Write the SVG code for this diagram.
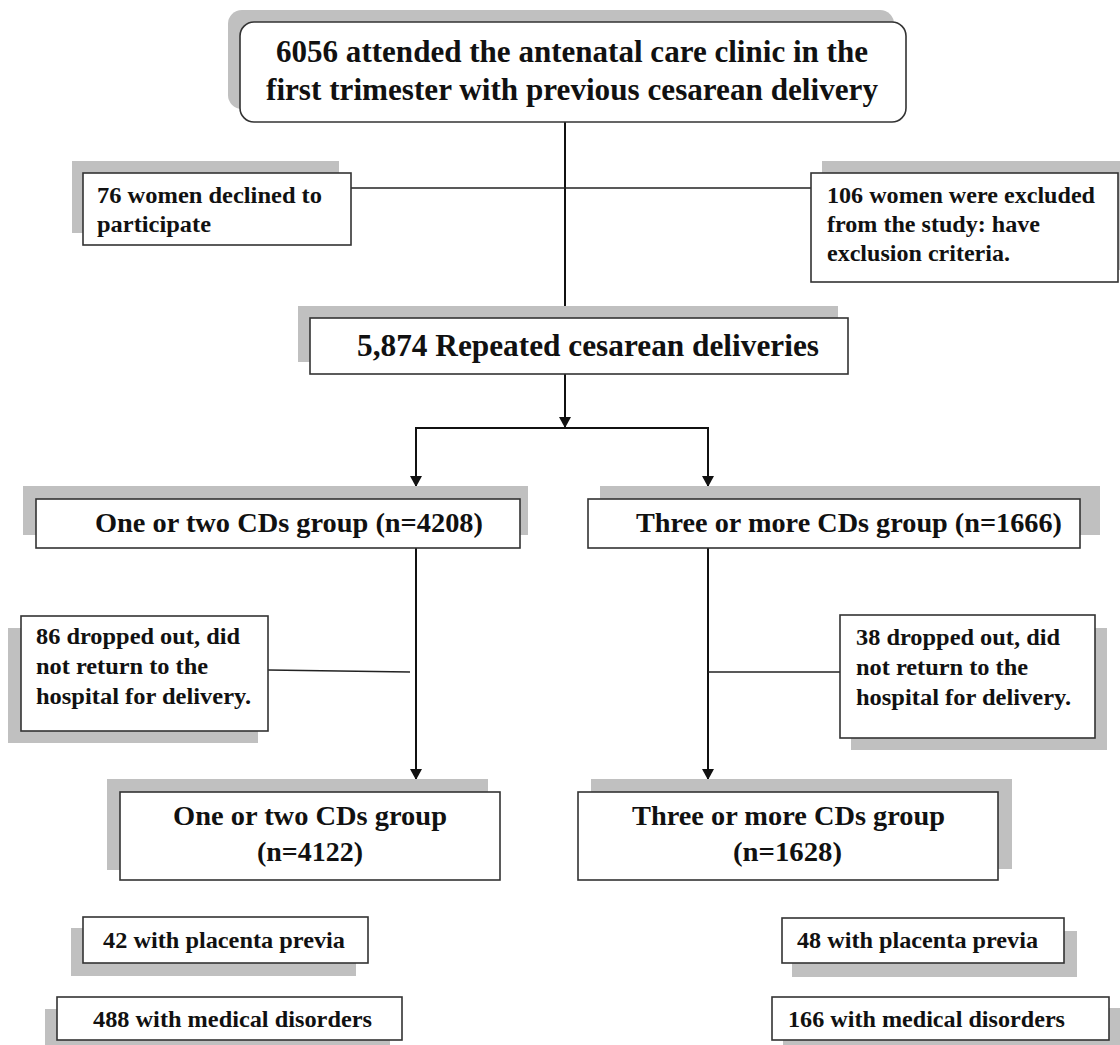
<svg xmlns="http://www.w3.org/2000/svg" width="1120" height="1045" viewBox="0 0 1120 1045">
<style>
.sh{fill:#c0c0c0;stroke:none}
.bx{fill:#fff;stroke:#333;stroke-width:1.6}
.t{font-family:"Liberation Serif","Times New Roman",serif;font-weight:bold;fill:#111}
.s{font-size:24px}
.m{font-size:28px}
.l{font-size:32px}
.c{stroke:#111;stroke-width:2;fill:none}
.h{stroke:#222;stroke-width:1.3;fill:none}
</style>
<defs>
<marker id="ar" markerWidth="11" markerHeight="12" refX="11" refY="6" orient="auto" markerUnits="userSpaceOnUse">
<path d="M0,0 L11,6 L0,12 Z" fill="#111"/>
</marker>
</defs>
<rect width="1120" height="1045" fill="#fff"/>
<g id="connectors">
<line class="c" x1="565" y1="122" x2="565" y2="318" marker-end="url(#ar)"/>
<line class="h" x1="351" y1="188" x2="811" y2="188"/>
<line class="c" x1="565" y1="373" x2="565" y2="428" marker-end="url(#ar)"/>
<line class="c" x1="415" y1="428" x2="709" y2="428"/>
<line class="c" x1="416" y1="428" x2="416" y2="487" marker-end="url(#ar)"/>
<line class="c" x1="708" y1="428" x2="708" y2="487" marker-end="url(#ar)"/>
<line class="c" x1="416" y1="548" x2="416" y2="780" marker-end="url(#ar)"/>
<line class="c" x1="708" y1="548" x2="708" y2="780" marker-end="url(#ar)"/>
<line class="h" x1="268" y1="670" x2="410" y2="672"/>
<line class="h" x1="708" y1="672" x2="840" y2="672"/>
</g>
<g id="n-top">
<rect class="sh" x="228" y="10" width="666" height="99" rx="14"/>
<rect class="bx" x="240" y="22" width="666" height="100" rx="14"/>
<text class="t l" x="276" y="62" textLength="592" lengthAdjust="spacingAndGlyphs">6056 attended the antenatal care clinic in the</text>
<text class="t l" x="266" y="100" textLength="612" lengthAdjust="spacingAndGlyphs">first trimester with previous cesarean delivery</text>
</g>
<g id="n-declined">
<rect class="sh" x="72" y="161" width="267" height="72"/>
<rect class="bx" x="83" y="173" width="268" height="72"/>
<text class="t s" x="97" y="203" textLength="225" lengthAdjust="spacingAndGlyphs">76 women declined to</text>
<text class="t s" x="97" y="232" textLength="114" lengthAdjust="spacingAndGlyphs">participate</text>
</g>
<g id="n-excluded">
<rect class="sh" x="822" y="161" width="300" height="109"/>
<rect class="bx" x="811" y="173" width="307" height="109"/>
<text class="t s" x="827" y="203" textLength="268" lengthAdjust="spacingAndGlyphs">106 women were excluded</text>
<text class="t s" x="827" y="232" textLength="213" lengthAdjust="spacingAndGlyphs">from the study: have</text>
<text class="t s" x="827" y="261" textLength="183" lengthAdjust="spacingAndGlyphs">exclusion criteria.</text>
</g>
<g id="n-repeated">
<rect class="sh" x="298" y="306" width="540" height="56"/>
<rect class="bx" x="310" y="318" width="538" height="56"/>
<text class="t l" x="357" y="356" textLength="462" lengthAdjust="spacingAndGlyphs">5,874 Repeated cesarean deliveries</text>
</g>
<g id="n-g1">
<rect class="sh" x="23" y="486" width="505" height="49"/>
<rect class="bx" x="36" y="499" width="484" height="49"/>
<text class="t m" x="95" y="532" textLength="388" lengthAdjust="spacingAndGlyphs">One or two CDs group (n=4208)</text>
</g>
<g id="n-g2">
<rect class="sh" x="600" y="486" width="500" height="49"/>
<rect class="bx" x="588" y="499" width="492" height="49"/>
<text class="t m" x="636" y="532" textLength="426" lengthAdjust="spacingAndGlyphs">Three or more CDs group (n=1666)</text>
</g>
<g id="n-drop1">
<rect class="sh" x="8" y="628" width="250" height="115"/>
<rect class="bx" x="21" y="616" width="247" height="115"/>
<text class="t s" x="36" y="644" textLength="204" lengthAdjust="spacingAndGlyphs">86 dropped out, did</text>
<text class="t s" x="36" y="674" textLength="172" lengthAdjust="spacingAndGlyphs">not return to the</text>
<text class="t s" x="36" y="704" textLength="215" lengthAdjust="spacingAndGlyphs">hospital for delivery.</text>
</g>
<g id="n-drop2">
<rect class="sh" x="851" y="628" width="256" height="122"/>
<rect class="bx" x="840" y="615" width="255" height="123"/>
<text class="t s" x="856" y="645" textLength="204" lengthAdjust="spacingAndGlyphs">38 dropped out, did</text>
<text class="t s" x="856" y="675" textLength="172" lengthAdjust="spacingAndGlyphs">not return to the</text>
<text class="t s" x="856" y="705" textLength="215" lengthAdjust="spacingAndGlyphs">hospital for delivery.</text>
</g>
<g id="n-f1">
<rect class="sh" x="107" y="779" width="381" height="91"/>
<rect class="bx" x="120" y="792" width="380" height="88"/>
<text class="t m" x="173" y="825" textLength="274" lengthAdjust="spacingAndGlyphs">One or two CDs group</text>
<text class="t m" x="257" y="861" textLength="106" lengthAdjust="spacingAndGlyphs">(n=4122)</text>
</g>
<g id="n-f2">
<rect class="sh" x="591" y="779" width="421" height="90"/>
<rect class="bx" x="578" y="792" width="420" height="88"/>
<text class="t m" x="632" y="825" textLength="313" lengthAdjust="spacingAndGlyphs">Three or more CDs group</text>
<text class="t m" x="733" y="861" textLength="109" lengthAdjust="spacingAndGlyphs">(n=1628)</text>
</g>
<g id="n-pp1">
<rect class="sh" x="71" y="928" width="285" height="48"/>
<rect class="bx" x="83" y="917" width="285" height="46"/>
<text class="t s" x="103" y="948" textLength="242" lengthAdjust="spacingAndGlyphs">42 with placenta previa</text>
</g>
<g id="n-md1">
<rect class="sh" x="45" y="1009" width="345" height="45"/>
<rect class="bx" x="57" y="997" width="345" height="43"/>
<text class="t s" x="93" y="1027" textLength="279" lengthAdjust="spacingAndGlyphs">488 with medical disorders</text>
</g>
<g id="n-pp2">
<rect class="sh" x="792" y="931" width="285" height="46"/>
<rect class="bx" x="782" y="918" width="282" height="45"/>
<text class="t s" x="797" y="948" textLength="241" lengthAdjust="spacingAndGlyphs">48 with placenta previa</text>
</g>
<g id="n-md2">
<rect class="sh" x="783" y="1008" width="337" height="45"/>
<rect class="bx" x="772" y="997" width="337" height="43"/>
<text class="t s" x="788" y="1027" textLength="277" lengthAdjust="spacingAndGlyphs">166 with medical disorders</text>
</g>
</svg>
